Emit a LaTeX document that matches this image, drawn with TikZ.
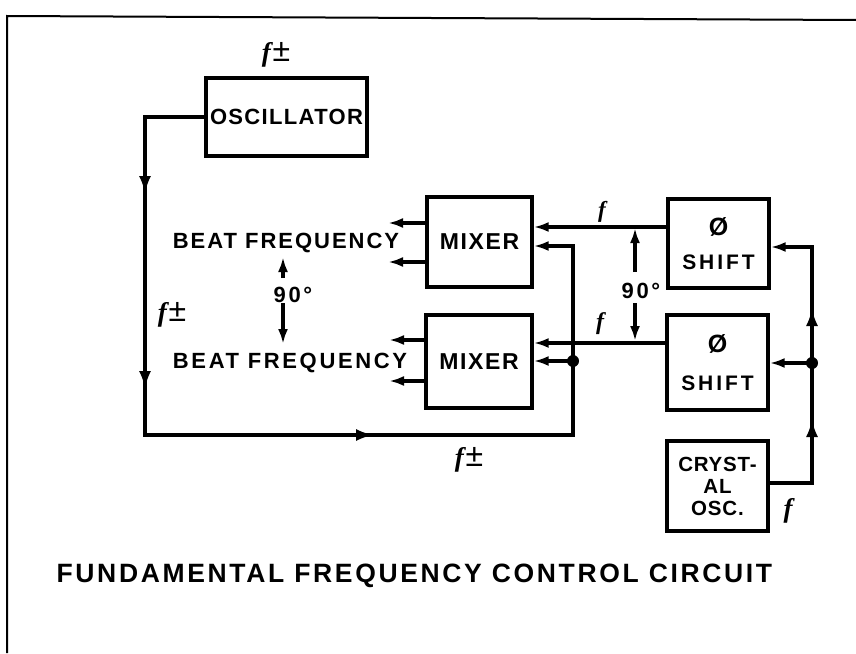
\documentclass[tikz,border=0pt]{standalone}
\usepackage{fontspec}
\setmainfont{Liberation Sans}
\newfontfamily\ffont{Liberation Serif}
\usetikzlibrary{arrows.meta}
\newcommand\myfs[3]{\fontsize{#1}{#2}\selectfont\bfseries\addfontfeatures{LetterSpace=#3}}
\newcommand\fsym[1]{{\fontsize{#1}{#1}\selectfont\ffont\bfseries\itshape f}}
\newcommand\fpmsym{\fsym{27}\,{\fontsize{32}{32}\selectfont ±}}
\begin{document}
\begin{tikzpicture}[x=1pt,y=-1pt,line width=3.3pt,line join=miter,
  box/.style={draw,rectangle,inner sep=0pt,align=center},
  lbl/.style={inner sep=0pt},
  tip/.style={-{Latex[length=15pt,width=10pt]}},
  midtip/.style={-{Latex[length=18pt,width=12pt]}},
  dot/.style={circle,fill,inner sep=0pt,minimum size=12pt}]
\useasboundingbox (0,0) rectangle (856,653);
\fill[white] (0,0) rectangle (856,653);
\draw[line width=2pt] (7,653) -- (7,16) -- (856,20);

% blocks
\node[box,minimum width=161pt,minimum height=78pt,font=\myfs{22}{26}{6}] (osc) at (286.5,117) {OSCILLATOR};
\node[box,minimum width=105pt,minimum height=90pt,font=\myfs{23}{26}{7}] (mix1) at (479.5,242) {MIXER};
\node[box,minimum width=106pt,minimum height=93pt,font=\myfs{23}{26}{7}] (mix2) at (479,361.5) {MIXER};
\node[box,minimum width=101pt,minimum height=89pt,font=\myfs{21}{34}{14}] (sh1) at (718.5,243.5) {{\fontsize{25}{34}\selectfont Ø}\\SHIFT};
\node[box,minimum width=101pt,minimum height=95pt,font=\myfs{21}{38}{14}] (sh2) at (717.5,362.5) {{\fontsize{25}{38}\selectfont Ø}\\SHIFT};
\node[box,minimum width=101pt,minimum height=90pt,font=\myfs{20.5}{22}{4}] (xtal) at (717.5,486) {CRYST-\\AL\\OSC.};

% junctions and corners
\coordinate (c1) at (145,117);
\coordinate (c2) at (145,435);
\coordinate (c3) at (573,435);
\coordinate (c4) at (573,246);
\node[dot] (d1) at (573,361) {};
\coordinate (c5) at (812,483);
\node[dot] (d2) at (812,363) {};
\coordinate (c6) at (812,247);

% oscillator loop
\draw[tip] (osc.west) -- (c1) -- (c2) -- (c3) -- (d1.center) -- (c4) -- (c4 -| mix1.east);
\draw[tip] (d1.center) -- (d1 -| mix2.east);
% direction marks on the loop
\coordinate (ma0) at (145,150); \coordinate (ma1) at (145,194);
\coordinate (mb0) at (145,345); \coordinate (mb1) at (145,389);
\coordinate (mc0) at (330,435); \coordinate (mc1) at (374,435);
\draw[midtip] (ma0) -- (ma1);
\draw[midtip] (mb0) -- (mb1);
\draw[midtip] (mc0) -- (mc1);

% crystal distribution
\draw[tip] (xtal.east |- c5) -- (c5) -- (d2.center) -- (c6) -- (c6 -| sh1.east);
\draw[tip] (d2.center) -- (d2 -| sh2.east);
\coordinate (md0) at (812,465); \coordinate (md1) at (812,419);
\coordinate (me0) at (812,352); \coordinate (me1) at (812,308);
\draw[midtip] (md0) -- (md1);
\draw[midtip] (me0) -- (me1);

% shift outputs to mixers
\coordinate (y1) at (600,227);
\coordinate (y2) at (600,343);
\draw[tip] (sh1.west |- y1) -- (mix1.east |- y1);
\draw[tip] (sh2.west |- y2) -- (mix2.east |- y2);

% mixer outputs
\coordinate (o1) at (388,223);
\coordinate (o2) at (388,262);
\coordinate (o3) at (389,340);
\coordinate (o4) at (389,381);
\draw[tip] (mix1.west |- o1) -- (o1);
\draw[tip] (mix1.west |- o2) -- (o2);
\draw[tip] (mix2.west |- o3) -- (o3);
\draw[tip] (mix2.west |- o4) -- (o4);

% labels
\node[lbl,anchor=base,font=\myfs{22}{26}{9}] (bf1) at (286,248) {BEAT FREQUENCY};
\node[lbl,anchor=base,font=\myfs{22}{26}{12}] (bf2) at (290,368) {BEAT FREQUENCY};
\node[lbl,anchor=base,font=\myfs{22}{26}{12}] (n90l) at (293,302) {90°};
\node[lbl,anchor=base,font=\myfs{22}{26}{12}] (n90r) at (641,298) {90°};
\node[lbl,anchor=base west,font=\myfs{26.5}{30}{10}] (title) at (55,582) {FUNDAMENTAL FREQUENCY CONTROL CIRCUIT};

% 90 degree arrows
\coordinate (la0) at (283,278);
\coordinate (la1) at (283,257);
\coordinate (lb0) at (283,303);
\coordinate (lb1) at (283,344);
\draw[tip] (la0) -- (la1);
\draw[tip] (lb0) -- (lb1);
\coordinate (ra0) at (635,272);
\coordinate (ra1) at (635,228);
\coordinate (rb0) at (635,303);
\coordinate (rb1) at (635,341);
\draw[tip] (ra0) -- (ra1);
\draw[tip] (rb0) -- (rb1);

% frequency labels
\node[lbl,anchor=base] (fpm1) at (276,61) {\fpmsym};
\node[lbl,anchor=base] (fpm2) at (172,321) {\fpmsym};
\node[lbl,anchor=base] (fpm3) at (469,466) {\fpmsym};
\node[lbl,anchor=base] (f1) at (602,217) {\fsym{23}};
\node[lbl,anchor=base] (f2) at (600,329) {\fsym{24}};
\node[lbl,anchor=base] (f3) at (788,517) {\fsym{27}};
\end{tikzpicture}
\end{document}
